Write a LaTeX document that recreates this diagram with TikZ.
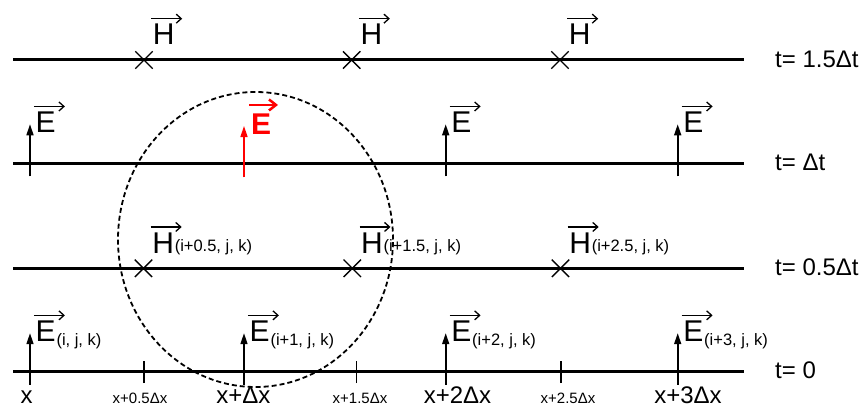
\documentclass[tikz,border=0pt]{standalone}
\usepackage{fontspec}
\setmainfont{Liberation Sans}
\usetikzlibrary{arrows.meta,shapes.misc}

\begin{document}
\begin{tikzpicture}[
  x=1pt,y=1pt,
  %% time levels: heavy horizontal lines
  timeline/.style={line width=3pt},
  %% E samples: upward arrows with filled heads
  eup/.style={-{Triangle[length=11pt,width=7pt]},line width=1.6pt},
  %% H samples: crosses sitting on the line
  hmark/.style={draw,cross out,minimum size=16pt,inner sep=0pt,line width=1.4pt},
  %% half-step ticks on the x axis
  halftick/.style={line width=1.3pt},
  %% vector arrow over a field letter
  vecarr/.style={-{Straight Barb[length=5pt,width=9pt]},line width=1.3pt},
  fieldlbl/.style={inner sep=0pt,anchor=base west,font=\fontsize{30}{36}\selectfont},
  sublbl/.style={inner sep=0pt,anchor=base west,font=\fontsize{16.5}{20}\selectfont},
  timelbl/.style={inner sep=0pt,anchor=base west,font=\fontsize{24}{28}\selectfont},
  xlbl/.style={inner sep=0pt,anchor=base,font=\fontsize{24}{28}\selectfont},
  xhalf/.style={inner sep=0pt,anchor=base,font=\fontsize{15}{18}\selectfont},
  %% update stencil
  stencil/.style={dashed,dash pattern=on 5pt off 3pt,line width=1.8pt}
]
\useasboundingbox (0,0) rectangle (862,408);

%% ---- TIME LEVELS ----
\foreach \n/\y in {0/36.3,1/139.7,2/244.7,3/348} {
  \coordinate (w\n) at (13,\y);
  \coordinate (e\n) at (744,\y);
  \draw[timeline] (w\n) -- (e\n);
}
\node[timelbl] (t0) at (775,29.3)  {t= 0};
\node[timelbl] (t1) at (775,132.7) {t= 0.5Δt};
\node[timelbl] (t2) at (775,237.7) {t= Δt};
\node[timelbl] (t3) at (775,341)   {t= 1.5Δt};

%% ---- E AT t = 0 ----
\foreach \i/\x/\s in {0/30/{i, j, k},1/244/{i+1, j, k},2/445.7/{i+2, j, k},3/677.7/{i+3, j, k}} {
  \coordinate (ez\i) at (\x,36.3);
  \draw[eup] ([yshift=-13pt]ez\i) -- ([yshift=38.5pt]ez\i);
  \node[fieldlbl] (ezl\i) at ([xshift=5.4pt,yshift=30pt]ez\i) {E};
  \draw[vecarr] ([xshift=-1.5pt,yshift=5.5pt]ezl\i.north west) -- ++(31,0);
  \node[sublbl] (ezs\i) at ([xshift=0.5pt,yshift=-3.5pt]ezl\i.base east) {(\s)};
}

%% ---- H AT t = 0.5 dt ----
\foreach \i/\x/\s in {0/143.5/{i+0.5, j, k},1/352.3/{i+1.5, j, k},2/560.5/{i+2.5, j, k}} {
  \node[hmark] (hh\i) at (\x,139.7) {};
  \node[fieldlbl] (hhl\i) at ([xshift=8.7pt,yshift=15pt]hh\i.center) {H};
  \draw[vecarr] ([xshift=-1.5pt,yshift=5.5pt]hhl\i.north west) -- ++(31,0);
  \node[sublbl] (hhs\i) at ([xshift=0.3pt,yshift=1.5pt]hhl\i.base east) {(\s)};
}

%% ---- E AT t = dt ----
\foreach \i/\x in {0/30,2/445.7,3/677.7} {
  \coordinate (ed\i) at (\x,244.7);
  \draw[eup] ([yshift=-13pt]ed\i) -- ([yshift=39pt]ed\i);
  \node[fieldlbl] (edl\i) at ([xshift=5.4pt,yshift=30.5pt]ed\i) {E};
  \draw[vecarr] ([xshift=-1.5pt,yshift=5.5pt]edl\i.north west) -- ++(31,0);
}
%% the updated sample, in red
\coordinate (ed1) at (244,244.7);
\draw[eup,red] ([yshift=-14pt]ed1) -- ([yshift=37.3pt]ed1);
\node[fieldlbl,red,font=\fontsize{30}{36}\selectfont\bfseries] (edl1)
  at ([xshift=7pt,yshift=28.5pt]ed1) {E};
\draw[vecarr,red,line width=2.5pt,-{Straight Barb[length=7pt,width=11pt]}]
  ([xshift=-2pt,yshift=9pt]edl1.north west) -- ++(29,0);

%% ---- H AT t = 1.5 dt ----
\foreach \i/\x in {0/144,1/351.7,2/560} {
  \node[hmark] (ht\i) at (\x,348) {};
  \node[fieldlbl] (htl\i) at ([xshift=8.7pt,yshift=15pt]ht\i.center) {H};
  \draw[vecarr] ([xshift=-1.5pt,yshift=5.5pt]htl\i.north west) -- ++(31,0);
}

%% ---- x AXIS ----
\foreach \i/\x in {0/144,1/356.5,2/561} {
  \coordinate (tk\i) at (\x,36.3);
  \draw[halftick] ([yshift=-11.3pt]tk\i) -- ([yshift=10.7pt]tk\i);
}
\node[xlbl] (x0) at (26.7,4.5)  {x};
\node[xlbl] (x1) at (243.3,4.5) {x+Δx};
\node[xlbl] (x2) at (457.5,4.5) {x+2Δx};
\node[xlbl] (x3) at (688,4.5)   {x+3Δx};
\node[xhalf] (xh0) at (140,4.5) {x+0.5Δx};
\node[xhalf] (xh1) at (360,4.5) {x+1.5Δx};
\node[xhalf] (xh2) at (568,4.5) {x+2.5Δx};

%% ---- STENCIL ----
\draw[stencil] (255.5,168.5) ellipse [x radius=137.5pt, y radius=147.5pt];

\end{tikzpicture}
\end{document}
